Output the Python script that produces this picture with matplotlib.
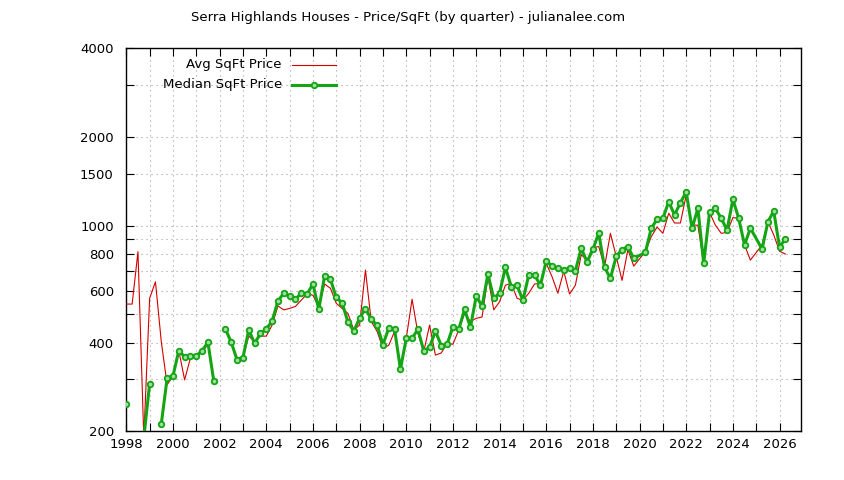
import matplotlib
matplotlib.use("Agg")
import matplotlib.pyplot as plt
from matplotlib.lines import Line2D
from matplotlib.ticker import FixedLocator, NullFormatter, MultipleLocator, FuncFormatter

plt.rcParams['font.family'] = ['DejaVu Sans']

title = "Serra Highlands Houses - Price/SqFt (by quarter) - julianalee.com"

# quarterly dates (quarter index from 1998 Q1); two quarters absent from the data
quarter_idx = [q for q in range(114) if q not in (88, 108)]
years = [1998 + q / 4 for q in quarter_idx]

# Avg SqFt Price (None = no value)
avg_price = [
    541, 541, 815, 190,   566, 644, 403, 288,   308, 376, 299, 355,    # 1998-2000
    361, 372, 395, 296,   None, 445, 401, 355,  358, 421, 403, 421,    # 2001-2003
    421, 459, 533, 517,   523, 531, 558, 585,   580, 527, 633, 612,    # 2004-2006
    544, 523, 503, 442,   459, 706, 472, 437,   383, 392, 437, 330,    # 2007-2009
    414, 562, 430, 373,   459, 363, 369, 398,   395, 442, 503, 472,    # 2010-2012
    484, 489, 670, 517,   551, 627, 636, 566,   557, 589, 633, 636,    # 2013-2015
    744, 670, 589, 700,   585, 627, 796, 763,   843, 848, 724, 941,    # 2016-2018
    785, 651, 829, 728,   816, 916, 988,        941, 1101, 1020, 1020, # 2019-2021
    1270, 1003, 1003, 744, 1109, 1003, 941, 948, 1064, 1058, 859, 763,  # 2022-2024
    859, 1030, 930,       818, 800,                                   # 2025-2026
]

# Median SqFt Price (None = no value)
median_price = [
    248, None, None, 190,  290, None, 212, 303,  308, 376, 358, 361,    # 1998-2000
    361, 376, 401, 296,   None, 445, 401, 349,  356, 442, 398, 430,    # 2001-2003
    445, 474, 554, 589,   575, 562, 589, 585,   633, 519, 674, 657,    # 2004-2006
    570, 546, 470, 438,   484, 522, 480, 459,   394, 448, 444, 325,    # 2007-2009
    414, 414, 444, 375,   386, 438, 391, 395,   453, 444, 519, 451,    # 2010-2012
    576, 532, 684, 566,   590, 721, 620, 626,   557, 679, 679, 627,    # 2013-2015
    758, 728, 716, 705,   716, 702, 838, 752,   830, 942, 721, 662,    # 2016-2018
    786, 829, 848, 774,   810, 978, 1050,       1058, 1205, 1086, 1195, # 2019-2021
    1300, 978, 1144, 744, 1109, 1144, 1058, 965, 1228, 1058, 859, 980,  # 2022-2024
    832, 1028, 1120,      845, 901,                                   # 2025-2026
]

ytick_major = [200, 400, 600, 800, 1000, 1500, 2000, 4000]
ytick_minor = [300, 500, 700, 900, 3000]

red = '#d40000'
green = '#14a514'
marker_face = '#9fdc9f'


def to_float(vals):
    return [float('nan') if v is None else v for v in vals]


fig = plt.figure(figsize=(8.44, 4.8), dpi=100)
ax = fig.add_axes([126.3 / 844, 1 - 431.3 / 480, (801 - 126.3) / 844, (431.3 - 48.3) / 480])

ax.plot(years, to_float(avg_price), color=red, lw=0.8, zorder=3)
ax.plot(years, to_float(median_price), color=green, lw=2.2, marker='o', ms=4.0,
        mfc=marker_face, mec=green, mew=1.3, zorder=4)

ax.set_yscale('log')
ax.set_ylim(200, 4000)
ax.set_xlim(1998, 2026.92)

ax.yaxis.set_major_locator(FixedLocator(ytick_major))
ax.yaxis.set_major_formatter(FuncFormatter(lambda v, p: f"{int(round(v))}"))
ax.yaxis.set_minor_locator(FixedLocator(ytick_minor))
ax.yaxis.set_minor_formatter(NullFormatter())

ax.xaxis.set_major_locator(MultipleLocator(2))
ax.xaxis.set_minor_locator(MultipleLocator(1))
ax.xaxis.set_major_formatter(FuncFormatter(lambda v, p: f"{int(round(v))}"))

ax.tick_params(which='both', direction='in', top=True, right=True, labelsize=9.5,
               width=0.8, color='black')
ax.tick_params(which='major', length=6)
ax.tick_params(which='minor', length=6)
ax.tick_params(axis='y', which='major', pad=9)
ax.tick_params(axis='x', which='major', pad=5)

ax.grid(True, which='both', color='#a0a0a0', linestyle=(0, (1, 3.5)), linewidth=0.8)
ax.set_axisbelow(True)
for s in ax.spines.values():
    s.set_linewidth(1.0)
    s.set_color('black')

fig.text(408 / 844, 1 - 18 / 480, title, ha='center', va='center', fontsize=9.5)

# legend (gnuplot style: right-aligned text, sample to the right)
def ax_xy(px, py):
    return (px - 126.3) / (801 - 126.3), (431.3 - py) / (431.3 - 48.3)

tx, ty1 = ax_xy(282, 65)
_, ty2 = ax_xy(282, 85)
ax.text(tx, ty1, "Avg SqFt Price", transform=ax.transAxes, ha='right', va='center', fontsize=9.5)
ax.text(tx, ty2, "Median SqFt Price", transform=ax.transAxes, ha='right', va='center', fontsize=9.5)
lx0, _ = ax_xy(292, 0)
lx1, _ = ax_xy(336, 0)
lxm, _ = ax_xy(314, 0)
ax.add_line(Line2D([lx0, lx1], [ty1, ty1], transform=ax.transAxes, color=red, lw=0.8))
ax.add_line(Line2D([lx0, lx1], [ty2, ty2], transform=ax.transAxes, color=green, lw=2.2))
ax.add_line(Line2D([lxm], [ty2], transform=ax.transAxes, color=green, marker='o', ms=4.0,
                   mfc=marker_face, mec=green, mew=1.3, lw=0))

fig.savefig("out.png", dpi=100)
